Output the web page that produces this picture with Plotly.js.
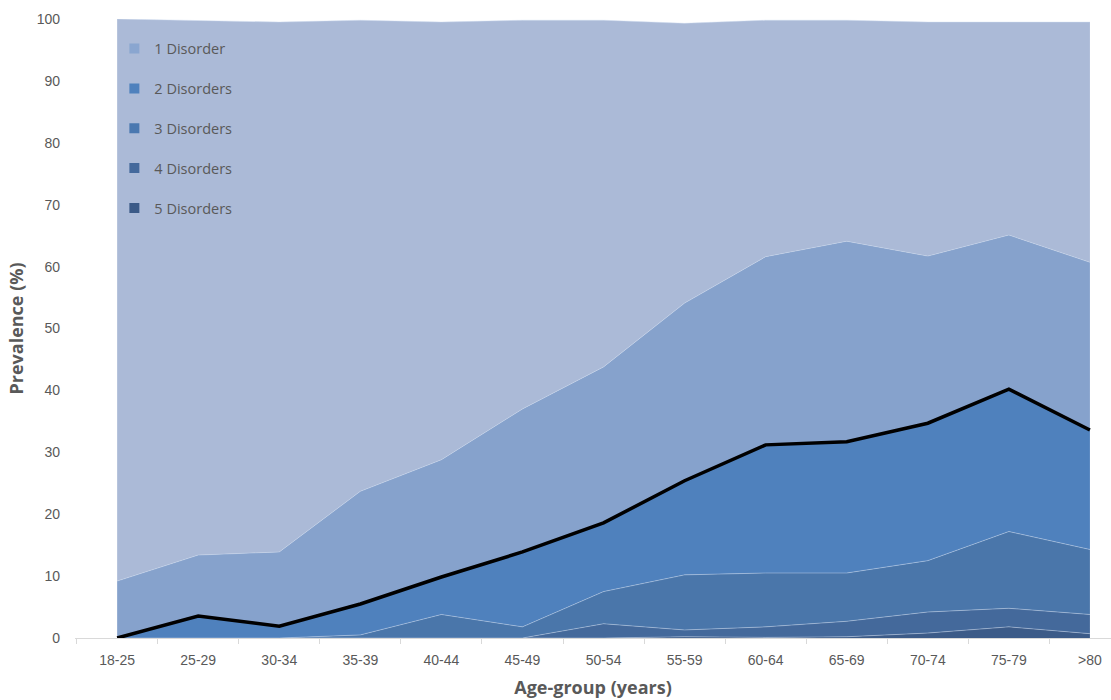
<!DOCTYPE html>
<html>
<head>
<meta charset="utf-8">
<script src="https://cdn.plot.ly/plotly-3.0.1.min.js"></script>
<style>html,body{margin:0;padding:0;background:#fff;}#chart{width:1111px;height:700px;}</style>
</head>
<body>
<div id="chart"></div>
<script>
// Age groups
const ageGroups = ['18-25','25-29','30-34','35-39','40-44','45-49','50-54','55-59','60-64','65-69','70-74','75-79','>80'];
// Prevalence (%) by number of disorders (stacked layers)
const fiveDisorders  = [0, 0, 0, 0, 0, 0, 0, 0.2, 0.1, 0.2, 0.8, 1.8, 0.7];
const fourDisorders  = [0, 0, 0, 0, 0, 0, 2.3, 1.1, 1.7, 2.5, 3.4, 3.0, 3.1];
const threeDisorders = [0, 0, 0, 0.5, 3.8, 1.8, 5.2, 8.9, 8.7, 7.8, 8.3, 12.4, 10.5];
const twoDisorders   = [0, 3.55, 1.9, 5.0, 6.05, 12.1, 11.1, 15.2, 20.7, 21.2, 22.2, 23.0, 19.3];
const oneDisorder    = [9.2, 9.85, 12.0, 18.2, 18.95, 23.1, 25.2, 28.7, 30.4, 32.4, 27.0, 24.9, 27.1];
const noDisorder     = [90.8, 86.4, 85.6, 76.1, 70.7, 62.8, 56.0, 45.2, 38.2, 35.7, 37.8, 34.4, 38.8];
const legendNames = ['1 Disorder','2 Disorders','3 Disorders','4 Disorders','5 Disorders'];

const colors = {
  none: '#abbad7',
  one: '#86a2cc',
  two: '#4f81bd',
  three: '#4a76aa',
  four: '#44699b',
  five: '#3c5b88'
};
const legendColors = ['#8aa6d0','#4f81bd','#4a78b0','#44699c','#3b5a87'];

const edge = 'rgba(205,218,238,0.55)';
function areaTrace(y, color, name) {
  return {
    type: 'scatter', mode: 'lines', x: ageGroups, y: y, name: name,
    stackgroup: 'one', fillcolor: color,
    line: {color: edge, width: 0.8}, showlegend: false, hoverinfo: 'skip'
  };
}

// multimorbidity (2+ disorders) cumulative line
const multi = ageGroups.map((_, i) => fiveDisorders[i] + fourDisorders[i] + threeDisorders[i] + twoDisorders[i]);

const traces = [
  areaTrace(fiveDisorders, colors.five, '5 Disorders'),
  areaTrace(fourDisorders, colors.four, '4 Disorders'),
  areaTrace(threeDisorders, colors.three, '3 Disorders'),
  areaTrace(twoDisorders, colors.two, '2 Disorders'),
  areaTrace(oneDisorder, colors.one, '1 Disorder'),
  areaTrace(noDisorder, colors.none, 'No disorder'),
  {type: 'scatter', mode: 'lines', x: ageGroups, y: multi, line: {color: '#000', width: 3.5}, showlegend: false, hoverinfo: 'skip'}
];
legendNames.forEach((n, i) => {
  traces.push({
    type: 'scatter', mode: 'markers', x: [null], y: [null], name: n,
    legendgroup: 'g' + i,
    marker: {symbol: 'square', size: 10, color: legendColors[i]},
    showlegend: true
  });
});

const layout = {
  width: 1111, height: 700,
  margin: {l: 75, r: 0, t: 19, b: 62},
  paper_bgcolor: '#ffffff', plot_bgcolor: 'rgba(0,0,0,0)',
  font: {family: 'Liberation Sans, Arial, sans-serif', color: '#595959', size: 14},
  showlegend: true,
  legend: {
    x: 0.038, y: 0.978, xanchor: 'left', yanchor: 'top',
    bgcolor: 'rgba(0,0,0,0)', itemwidth: 30, tracegroupgap: 18,
    font: {family: 'Open Sans, sans-serif', size: 14.5, color: '#595959'}
  },
  xaxis: {
    type: 'category', range: [-0.52, 12.26], tickson: 'boundaries',
    showline: true, linecolor: '#d9d9d9', linewidth: 1,
    ticks: 'outside', ticklen: 5, tickcolor: '#d9d9d9',
    showgrid: false, zeroline: false, ticklabelstandoff: 9,
    tickfont: {size: 14, color: '#595959'},
    title: {text: 'Age-group (years)', font: {family: 'Open Sans, sans-serif', size: 18, color: '#595959', weight: 'bold'}, standoff: 14}
  },
  yaxis: {
    range: [0, 100], tickvals: [0,10,20,30,40,50,60,70,80,90,100],
    showline: false, showgrid: false, zeroline: false, ticks: '',
    ticklabelstandoff: 14,
    tickfont: {size: 14, color: '#595959'},
    title: {text: 'Prevalence (%)', font: {family: 'Open Sans, sans-serif', size: 18, color: '#595959', weight: 'bold'}, standoff: 8}
  }
};

Plotly.newPlot('chart', traces, layout, {displayModeBar: false, staticPlot: true});
</script>
</body>
</html>
